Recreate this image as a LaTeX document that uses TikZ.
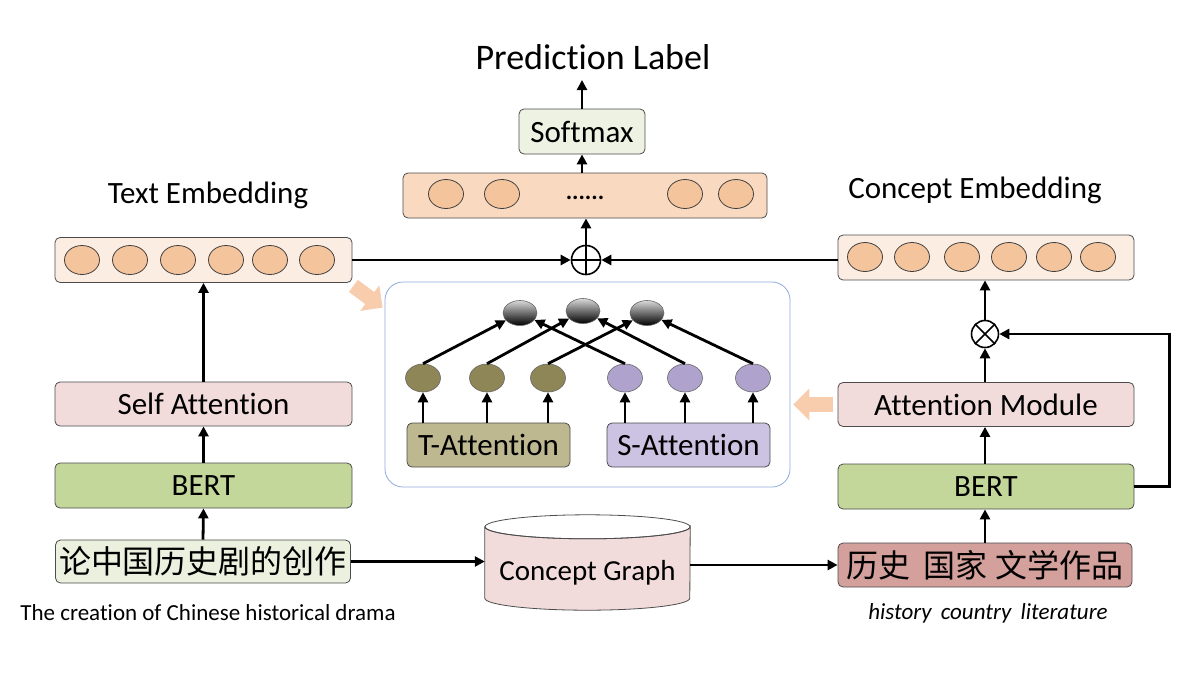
\documentclass[tikz,border=0pt]{standalone}
\usepackage{fontspec}
\setmainfont{Carlito}[Ligatures=NoCommon]
\newfontfamily\cjk{Noto Sans CJK SC}
\usetikzlibrary{arrows.meta,calc,shapes.geometric}
\definecolor{embfill}{HTML}{FCEDE3}
\definecolor{fusefill}{HTML}{F9DAC1}
\definecolor{unitfill}{HTML}{F4C49C}
\definecolor{softfill}{HTML}{EDF2E2}
\definecolor{pinkfill}{HTML}{F2DCDB}
\definecolor{bertfill}{HTML}{C4D79B}
\definecolor{srcfill}{HTML}{EBF1DE}
\definecolor{rosefill}{HTML}{D4A09C}
\definecolor{framecol}{HTML}{8EAADB}
\definecolor{olivefill}{HTML}{8E8656}
\definecolor{lilacfill}{HTML}{AFA3CD}
\definecolor{tafill}{HTML}{BEB891}
\definecolor{safill}{HTML}{CCC2E1}
\definecolor{peachcol}{HTML}{F8CDAE}
\tikzset{
	box/.style={draw=black!70, line width=0.8pt, rounded corners=5pt, inner sep=0pt, minimum width=296pt, minimum height=44pt, font=\fontsize{31}{34}\selectfont},
	unit/.style={ellipse, draw=black!75, line width=0.8pt, fill=unitfill, minimum width=35pt, minimum height=29pt, inner sep=0pt},
	attunit/.style={ellipse, draw=black!60, line width=0.6pt, minimum width=35pt, minimum height=28pt, inner sep=0pt},
	topunit/.style={ellipse, draw=black!60, line width=0.6pt, top color=black!15, bottom color=black, minimum width=34pt, minimum height=25pt, inner sep=0pt},
	arr/.style={line width=2.8pt, -{Triangle[length=10pt,width=10pt]}},
	peach/.style={line width=15pt, color=peachcol, -{Triangle[length=16pt,width=31pt]}},
	title/.style={font=\fontsize{31}{34}\selectfont}
}

\begin{document}
\begin{tikzpicture}[x=1pt, y=-1pt]
		%%%%% START %%%%%
		\useasboundingbox (0, 0) rectangle (1192, 678);
		
		\node[font=\fontsize{36}{40}\selectfont] (pred) at (593, 57) {Prediction Label};
		\coordinate (out) at (582, 80);
		\node[box, fill=softfill, minimum width=126pt, minimum height=45pt] (soft) at (582, 131.5) {Softmax};
		\draw[arr] (soft.north) -- (out);
		
		\node[box, fill=fusefill, minimum width=364pt, minimum height=45pt] (fuse) at (585, 195.5) {};
		\node[unit] (f1) at (446, 194) {};
		\node[unit] (f2) at (502, 194) {};
		\node[unit] (f3) at (685, 194) {};
		\node[unit] (f4) at (736, 194) {};
		\node[font=\fontsize{24}{26}\selectfont\bfseries] (dots) at (585, 198) {......};
		\draw[arr] (fuse.north -| soft) -- (soft.south);
		
		\node[draw, circle, line width=1.6pt, minimum size=29pt, inner sep=0pt] (add) at (586, 260) {};
		\draw[line width=1.6pt] (add.north) -- (add.south) (add.west) -- (add.east);
		\draw[arr] (add.north) -- (add.north |- fuse.south);
		
		% text side
		\node[title] (txtlab) at (208, 195) {Text Embedding};
		\node[box, fill=embfill, minimum width=297pt, minimum height=45pt] (txtemb) at (203.5, 260) {};
		\node[unit] (t1) at (82, 260) {};
		\node[unit] (t2) at (130, 260) {};
		\node[unit] (t3) at (178, 260) {};
		\node[unit] (t4) at (226, 260) {};
		\node[unit] (t5) at (270, 260) {};
		\node[unit] (t6) at (317, 260) {};
		\draw[arr] (txtemb.east) -- (add.west);
		
		\node[box, fill=pinkfill, minimum width=297pt, minimum height=44pt] (selfatt) at (203.5, 404) {Self Attention};
		\node[box, fill=bertfill, minimum width=297pt, minimum height=45pt] (bertl) at (203.5, 485.5) {BERT};
		\node[box, fill=srcfill, minimum width=295pt, minimum height=43pt, font=\cjk\fontsize{32}{34}\selectfont] (srcl) at (203, 561.5) {论中国历史剧的创作};
		\node[font=\fontsize{23}{26}\selectfont] (capl) at (208, 613) {The creation of Chinese historical drama};
		\draw[arr] (srcl.north) -- (bertl.south);
		\draw[arr] (bertl.north) -- (selfatt.south);
		\draw[arr] (selfatt.north) -- (txtemb.south);
		
		% concept side
		\node[title] (cptlab) at (975, 190) {Concept Embedding};
		\node[box, fill=embfill, minimum width=296pt, minimum height=45pt] (cptemb) at (986, 257.5) {};
		\node[unit] (c1) at (865, 257) {};
		\node[unit] (c2) at (912, 257) {};
		\node[unit] (c3) at (962, 257) {};
		\node[unit] (c4) at (1009, 257) {};
		\node[unit] (c5) at (1054, 257) {};
		\node[unit] (c6) at (1098, 257) {};
		\draw[arr] (cptemb.west |- add) -- (add.east);
		
		\node[draw, circle, line width=1.6pt, minimum size=27pt, inner sep=0pt] (mul) at (985, 334) {};
		\draw[line width=1.6pt] (mul.north east) -- (mul.south west) (mul.north west) -- (mul.south east);
		\node[box, fill=pinkfill, minimum width=296pt, minimum height=44pt] (attmod) at (986, 404.5) {Attention Module};
		\node[box, fill=bertfill, minimum width=296pt, minimum height=45pt] (bertr) at (986, 486.5) {BERT};
		\node[box, fill=rosefill, minimum width=294pt, minimum height=44pt, font=\cjk\fontsize{32}{34}\selectfont] (srcr) at (985, 565) {历史\hspace{14pt}国家\hspace{8pt}文学作品};
		\node[font=\fontsize{23}{26}\selectfont\itshape] (capr) at (988, 613) {history\hspace{4pt} country\hspace{4pt} literature};
		\draw[arr] (srcr.north -| mul) -- (bertr.south -| mul);
		\draw[arr] (bertr.north -| mul) -- (attmod.south -| mul);
		\draw[arr] (attmod.north -| mul) -- (mul.south);
		\draw[arr] (mul.north) -- (cptemb.south -| mul);
		\draw[arr] (bertr.east) -- ++(35, 0) |- (mul.east);
		
		% concept graph
		\node[minimum width=205pt, minimum height=95pt, inner sep=0pt] (graph) at (587.5, 562.5) {};
		\draw[draw=black!70, fill=pinkfill, line width=0.8pt] ($(graph.north west)+(0,12)$) -- ($(graph.south west)+(0,-12)$) arc (180:0:102.5 and 12) -- ($(graph.north east)+(0,12)$) arc (0:180:102.5 and 12) -- cycle;
		\draw[draw=black!70, line width=0.8pt] ($(graph.north)+(0,12)$) ellipse (102.5 and 12);
		\node[font=\fontsize{29}{32}\selectfont] (graphtxt) at ($(graph.center)+(0,10)$) {Concept Graph};
		\draw[arr] (srcl.east) -- (graph.west |- srcl.east);
		\draw[arr] (graph.east |- srcr.west) -- (srcr.west);
		
		% middle attention block
		\node[draw=framecol, line width=0.8pt, rounded corners=18pt, minimum width=405pt, minimum height=205pt] (frame) at (587.5, 384.5) {};
		\node[box, fill=tafill, minimum width=163pt, minimum height=44pt] (ta) at (488.5, 445) {T-Attention};
		\node[box, fill=safill, minimum width=163pt, minimum height=44pt] (sa) at (688.5, 445) {S-Attention};
		\node[attunit, fill=olivefill] (o1) at (423, 378) {};
		\node[attunit, fill=olivefill] (o2) at (487, 378) {};
		\node[attunit, fill=olivefill] (o3) at (548, 378) {};
		\node[attunit, fill=lilacfill] (p1) at (625, 378) {};
		\node[attunit, fill=lilacfill] (p2) at (685, 378) {};
		\node[attunit, fill=lilacfill] (p3) at (753, 378) {};
		\node[topunit] (g1) at (520, 313) {};
		\node[topunit] (g2) at (583, 311) {};
		\node[topunit] (g3) at (647, 313) {};
		
		\draw[arr] (ta.north -| o1) -- (o1.south);
		\draw[arr] (ta.north -| o2) -- (o2.south);
		\draw[arr] (ta.north -| o3) -- (o3.south);
		\draw[arr] (sa.north -| p1) -- (p1.south);
		\draw[arr] (sa.north -| p2) -- (p2.south);
		\draw[arr] (sa.north -| p3) -- (p3.south);
		
		\draw[arr] (o1.north) -- (g1);
		\draw[arr] (o2.north) -- (g2);
		\draw[arr] (o3.north) -- (g3);
		\draw[arr] (p1.north) -- (g1);
		\draw[arr] (p2.north) -- (g2);
		\draw[arr] (p3.north) -- (g3);
		
		% hint arrows
		\coordinate (hint1a) at ($(txtemb.south east)+(1,3)$);
		\coordinate (hint1b) at ($(frame.north west)+(-2,26)$);
		\draw[peach] (hint1a) -- (hint1b);
		\coordinate (hint2a) at ($(attmod.west)+(-5,0)$);
		\coordinate (hint2b) at ($(frame.east |- attmod)+(3,0)$);
		\draw[peach] (hint2a) -- (hint2b);
		
		%%%%% END %%%%%
	\end{tikzpicture}
\end{document}
